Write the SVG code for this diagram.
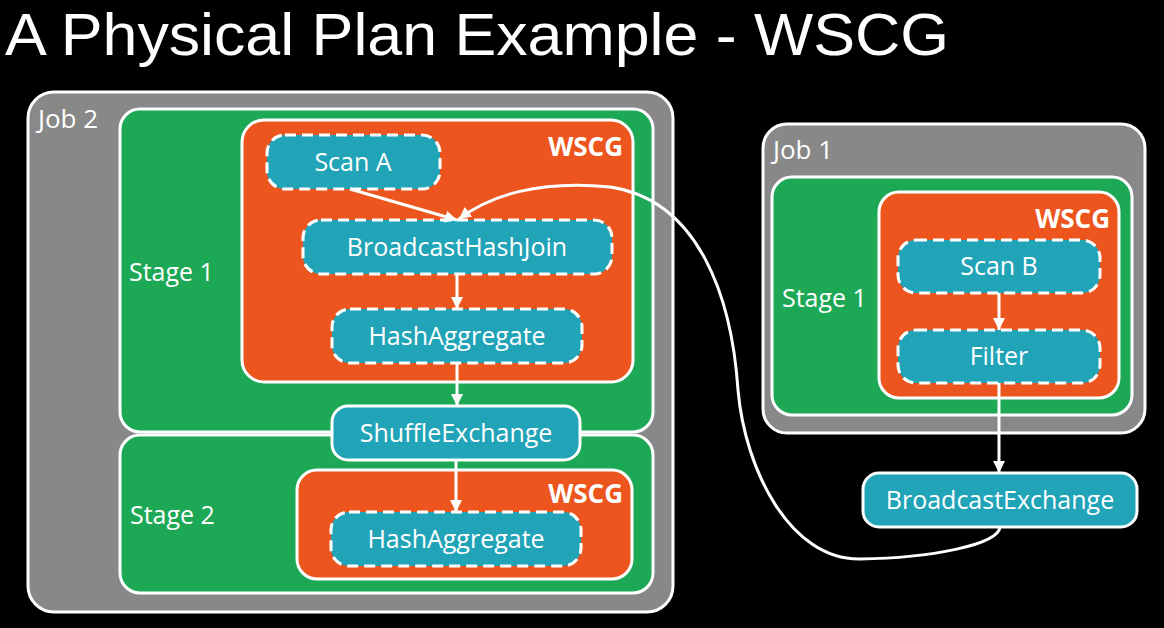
<svg xmlns="http://www.w3.org/2000/svg" width="1164" height="628" viewBox="0 0 1164 628">
  <style>
    .job { fill: #888888; stroke: #ffffff; stroke-width: 3; }
    .stage { fill: #1da856; stroke: #ffffff; stroke-width: 3; }
    .wscg { fill: #ec561e; stroke: #ffffff; stroke-width: 3; }
    .op { fill: #21a3b8; stroke: #ffffff; stroke-width: 3; stroke-dasharray: 11 6; }
    .ex { fill: #21a3b8; stroke: #ffffff; stroke-width: 3; }
    .lbl { fill: #ffffff; font-family: "Open Sans", "Noto Sans", sans-serif; font-size: 25px; }
    .jl { font-size: 26px; }
    .c { text-anchor: middle; }
    .w { font-weight: bold; text-anchor: end; font-size: 26px; }
    .title { fill: #ffffff; font-family: "Liberation Sans", Arial, sans-serif; font-size: 60px; }
    .conn { fill: none; stroke: #ffffff; stroke-width: 3; }
  </style>
  <defs>
    <marker id="ah" markerUnits="userSpaceOnUse" markerWidth="14" markerHeight="12" refX="12" refY="6" orient="auto">
      <path d="M0,0 L12,6 L0,12 Z" fill="#ffffff"/>
    </marker>
  </defs>
  <rect width="1164" height="628" fill="#000000"/>
  <text class="title" x="5" y="55" textLength="944" lengthAdjust="spacingAndGlyphs">A Physical Plan Example - WSCG</text>

  <g id="job2">
    <rect class="job" x="28" y="92" width="645" height="520" rx="26"/>
    <text class="lbl jl" x="38" y="128">Job 2</text>
  </g>
  <g id="job2-stage1">
    <rect class="stage" x="120" y="109" width="533" height="323" rx="20"/>
    <text class="lbl" x="129" y="281">Stage 1</text>
  </g>
  <g id="job2-stage2">
    <rect class="stage" x="120" y="435" width="533" height="158" rx="20"/>
    <text class="lbl" x="130" y="524">Stage 2</text>
  </g>
  <g id="job2-wscg1">
    <rect class="wscg" x="242" y="120" width="391" height="262" rx="22"/>
    <text class="lbl w" x="623" y="156">WSCG</text>
  </g>
  <g id="job2-wscg2">
    <rect class="wscg" x="297" y="470" width="335" height="109" rx="20"/>
    <text class="lbl w" x="623" y="503">WSCG</text>
  </g>
  <g id="scan-a">
    <rect class="op" x="267" y="135" width="173" height="54" rx="18"/>
    <text class="lbl c" x="353" y="171">Scan A</text>
  </g>
  <g id="broadcast-hash-join">
    <rect class="op" x="303" y="220" width="309" height="54" rx="18"/>
    <text class="lbl c" x="457" y="256">BroadcastHashJoin</text>
  </g>
  <g id="hash-aggregate-1">
    <rect class="op" x="332" y="309" width="250" height="54" rx="18"/>
    <text class="lbl c" x="457" y="345">HashAggregate</text>
  </g>
  <g id="shuffle-exchange">
    <rect class="ex" x="332" y="406" width="248" height="54" rx="16"/>
    <text class="lbl c" x="456" y="442">ShuffleExchange</text>
  </g>
  <g id="hash-aggregate-2">
    <rect class="op" x="331" y="512" width="250" height="54" rx="18"/>
    <text class="lbl c" x="456" y="548">HashAggregate</text>
  </g>

  <g id="job1">
    <rect class="job" x="763" y="124" width="382" height="309" rx="24"/>
    <text class="lbl jl" x="773" y="159">Job 1</text>
  </g>
  <g id="job1-stage1">
    <rect class="stage" x="772" y="177" width="360" height="238" rx="20"/>
    <text class="lbl" x="782" y="307">Stage 1</text>
  </g>
  <g id="job1-wscg">
    <rect class="wscg" x="879" y="192" width="240" height="206" rx="20"/>
    <text class="lbl w" x="1110" y="228">WSCG</text>
  </g>
  <g id="scan-b">
    <rect class="op" x="898" y="240" width="202" height="53" rx="18"/>
    <text class="lbl c" x="999" y="275">Scan B</text>
  </g>
  <g id="filter">
    <rect class="op" x="898" y="330" width="202" height="53" rx="18"/>
    <text class="lbl c" x="999" y="365">Filter</text>
  </g>
  <g id="broadcast-exchange">
    <rect class="ex" x="863" y="473" width="274" height="54" rx="16"/>
    <text class="lbl c" x="1000" y="509">BroadcastExchange</text>
  </g>

  <g id="connectors">
    <path class="conn" d="M350,189 L457,220" marker-end="url(#ah)"/>
    <path class="conn" d="M457,274 L457,309" marker-end="url(#ah)"/>
    <path class="conn" d="M457,363 L457,406" marker-end="url(#ah)"/>
    <path class="conn" d="M456,460 L456,512" marker-end="url(#ah)"/>
    <path class="conn" d="M999,293 L999,330" marker-end="url(#ah)"/>
    <path class="conn" d="M999,383 L999,473" marker-end="url(#ah)"/>
    <path class="conn" d="M1000,527 C998,545 930,558 860,559 C790,560 745,470 738,390 C732,300 700,200 610,187 C540,180 490,195 459,219" marker-end="url(#ah)"/>
  </g>
</svg>
